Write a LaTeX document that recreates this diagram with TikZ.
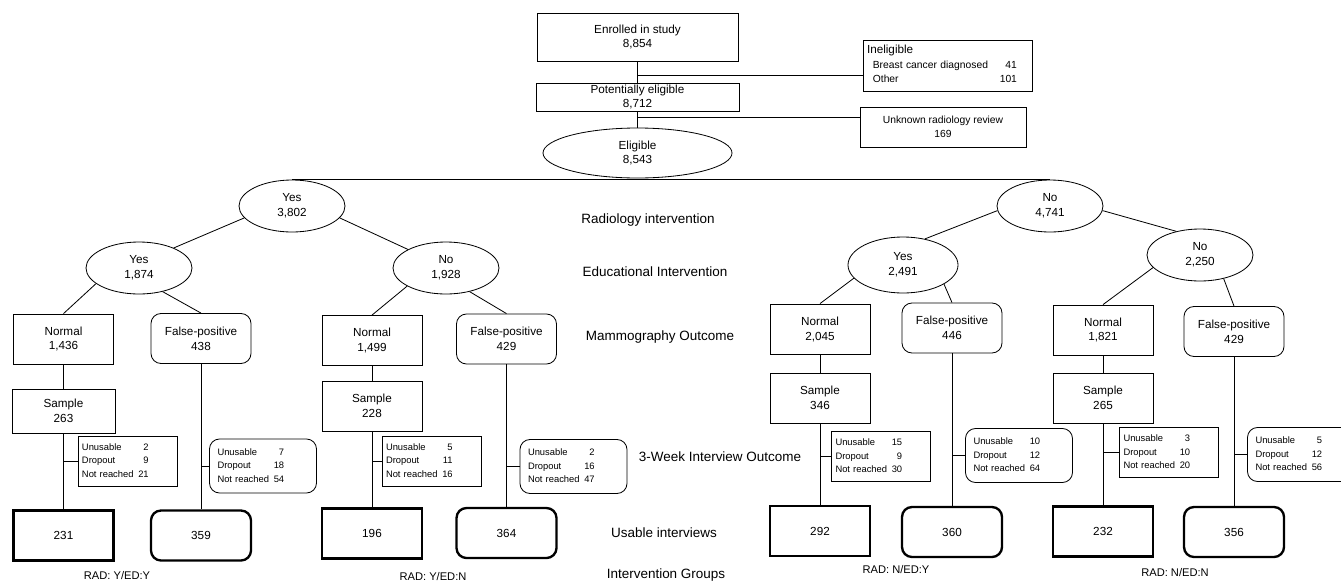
\documentclass[tikz,border=0pt]{standalone}
\usepackage{fontspec}
\setmainfont{Liberation Sans}
\usetikzlibrary{shapes.geometric}

\newcommand{\boxfont}{\fontsize{10}{12.8}\selectfont}
\newcommand{\sidefont}{\fontsize{8.8}{12.4}\selectfont}
\newcommand{\lossfont}{\fontsize{8}{11.5}\selectfont}
\newcommand{\rowfont}{\fontsize{11.5}{14}\selectfont}
\newcommand{\losses}[3]{\begin{tabular}{@{}l@{\hspace{4pt}}r@{}}Unusable & #1\\Dropout & #2\\Not reached & #3\end{tabular}}

\begin{document}
\begin{tikzpicture}[x=0.03cm,y=-0.03cm,line width=0.7pt,
    box/.style={rectangle,draw,minimum width=3cm,minimum height=1.5cm,
                inner sep=1pt,align=center,font=\boxfont},
    fpbox/.style={box,rounded corners=0.3cm},
    oval/.style={ellipse,draw,minimum width=3.18cm,minimum height=1.56cm,
                 inner sep=0pt,align=center,font=\boxfont},
    usable/.style={box,line width=2pt},
    usablefp/.style={usable,rounded corners=0.3cm},
    lossbox/.style={rectangle,draw,minimum height=1.5cm,text width=2.73cm,
                    inner xsep=0.12cm,align=left,font=\lossfont},
    lossfp/.style={lossbox,rounded corners=0.3cm,inner xsep=0.24cm,minimum height=1.62cm},
    rowlabel/.style={font=\rowfont},
    grouplabel/.style={font=\fontsize{9.5}{11}\selectfont}]

  \useasboundingbox (0,0) rectangle (1341,583);

  % Enrolment
  \node[box,minimum width=6.03cm,minimum height=1.44cm] (enrol) at (637.5,37) {Enrolled in study\\8,854};
  \node[box,minimum width=6.09cm,minimum height=0.84cm] (potel) at (637.5,97) {Potentially eligible\\8,712};
  \node[oval,minimum width=5.67cm,minimum height=1.5cm] (elig) at (637.5,153) {Eligible\\8,543};
  \node[box,minimum width=5.07cm,minimum height=1.53cm,text width=4.83cm,
        inner xsep=0.12cm,align=left,font=\sidefont] (inel) at (947.5,65.5)
    {\begin{tabular}{@{}l@{\hspace{10pt}}r@{}}
       \multicolumn{2}{@{}l@{}}{\fontsize{10}{12.4}\selectfont Ineligible}\\
       \hspace*{5pt}Breast cancer diagnosed & 41\\
       \hspace*{5pt}Other & 101
     \end{tabular}};
  \node[box,minimum width=4.98cm,minimum height=1.2cm,font=\sidefont] (unk) at (943,127)
    {Unknown radiology review\\169};

  \coordinate (j1) at (637.5,75);
  \coordinate (j2) at (637.5,117);
  \draw (enrol) -- (potel);
  \draw (j1) -- (j1 -| inel.west);
  \draw (potel) -- (elig);
  \draw (j2) -- (j2 -| unk.west);

  % Radiology intervention
  \node[oval] (rY) at (292,206) {Yes\\3,802};
  \node[oval] (rN) at (1050,206) {No\\4,741};
  \draw (rY.north) -- (rN.north);

  % Educational intervention
  \node[oval] (eYY) at (139,268) {Yes\\1,874};
  \node[oval] (eYN) at (446,268) {No\\1,928};
  \node[oval,minimum width=3.3cm,minimum height=1.68cm] (eNY) at (903,265) {Yes\\2,491};
  \node[oval] (eNN) at (1200,255) {No\\2,250};
  \draw (rY.194) -- (eYY.30);
  \draw (rY.346) -- (eYN.154);
  \draw (rN.185) -- (eNY.50);
  \draw (rN.355) -- (eNN.135);

  % Mammography outcome
  \node[box]   (nYY) at (63.5,339)  {Normal\\1,436};
  \node[fpbox] (fYY) at (201,338.5) {False-positive\\438};
  \node[box]   (nYN) at (372,340.5) {Normal\\1,499};
  \node[fpbox] (fYN) at (506.5,339) {False-positive\\429};
  \node[box]   (nNY) at (820,329)   {Normal\\2,045};
  \node[fpbox] (fNY) at (952,328)   {False-positive\\446};
  \node[box]   (nNN) at (1103,330)  {Normal\\1,821};
  \node[fpbox] (fNN) at (1234,331.5) {False-positive\\429};
  \draw (eYY.200) -- (nYY.north);
  \draw (eYY.315) -- (fYY.north);
  \draw (eYN.205) -- (nYN.north);
  \draw (eYN.315) -- (fYN.north);
  \draw (eNY.195) -- (nNY.north);
  \draw (eNY.335) -- (fNY.north);
  \draw (eNN.195) -- (nNN.north);
  \draw (eNN.315) -- (fNN.north);

  % Samples
  \node[box,minimum width=3.09cm,minimum height=1.32cm] (sYY) at (63.5,411) {Sample\\263};
  \node[box] (sYN) at (372,406) {Sample\\228};
  \node[box] (sNY) at (820,398) {Sample\\346};
  \node[box] (sNN) at (1103,398) {Sample\\265};
  \draw (nYY) -- (sYY);
  \draw (nYN) -- (sYN);
  \draw (nNY) -- (sNY);
  \draw (nNN) -- (sNN);

  % Usable interviews
  \node[usable]   (uYYn) at (63.5,535.5) {231};
  \node[usablefp] (uYYf) at (201,535.5)  {359};
  \node[usable]   (uYNn) at (372,533.5)  {196};
  \node[usablefp] (uYNf) at (506.5,533)  {364};
  \node[usable]   (uNYn) at (820,531)    {292};
  \node[usablefp] (uNYf) at (952,532)    {360};
  \node[usable]   (uNNn) at (1103,531.5) {232};
  \node[usablefp] (uNNf) at (1234,532)   {356};
  \draw (sYY) -- (uYYn);
  \draw (fYY) -- (uYYf);
  \draw (sYN) -- (uYNn);
  \draw (fYN) -- (uYNf);
  \draw (sNY) -- (uNYn);
  \draw (fNY) -- (uNYf);
  \draw (sNN) -- (uNNn);
  \draw (fNN) -- (uNNf);

  % 3-week interview losses
  \node[lossbox] (lYYn) at (127.5,461)  {\losses{2}{9}{21}};
  \node[lossfp]  (lYYf) at (263,466)    {\losses{7}{18}{54}};
  \node[lossbox] (lYNn) at (431.5,461)  {\losses{5}{11}{16}};
  \node[lossfp]  (lYNf) at (573.5,466.5) {\losses{2}{16}{47}};
  \node[lossbox] (lNYn) at (881,456.5)  {\losses{15}{9}{30}};
  \node[lossfp]  (lNYf) at (1019,455.5) {\losses{10}{12}{64}};
  \node[lossbox] (lNNn) at (1169,452.5) {\losses{3}{10}{20}};
  \node[lossfp]  (lNNf) at (1301,454.5) {\losses{5}{12}{56}};
  \draw (lYYn.west -| sYY.south) -- (lYYn.west);
  \draw (lYYf.west -| fYY.south) -- (lYYf.west);
  \draw (lYNn.west -| sYN.south) -- (lYNn.west);
  \draw (lYNf.west -| fYN.south) -- (lYNf.west);
  \draw (lNYn.west -| sNY.south) -- (lNYn.west);
  \draw (lNYf.west -| fNY.south) -- (lNYf.west);
  \draw (lNNn.west -| sNN.south) -- (lNNn.west);
  \draw (lNNf.west -| fNN.south) -- (lNNf.west);

  % Row labels
  \node[rowlabel] (labRad) at (648,220) {Radiology intervention};
  \node[rowlabel] (labEdu) at (655,272) {Educational Intervention};
  \node[rowlabel] (labMam) at (660,337) {Mammography Outcome};
  \node[rowlabel] (lab3wk) at (720,457) {3-Week Interview Outcome};
  \node[rowlabel] (labUse) at (664,533) {Usable interviews};
  \node[rowlabel] (labGrp) at (666,575) {Intervention Groups};

  % Groups
  \node[grouplabel] (gYY) at (117,576) {RAD: Y/ED:Y};
  \node[grouplabel] (gYN) at (433,577) {RAD: Y/ED:N};
  \node[grouplabel] (gNY) at (896,570) {RAD: N/ED:Y};
  \node[grouplabel] (gNN) at (1175,573) {RAD: N/ED:N};
\end{tikzpicture}
\end{document}
